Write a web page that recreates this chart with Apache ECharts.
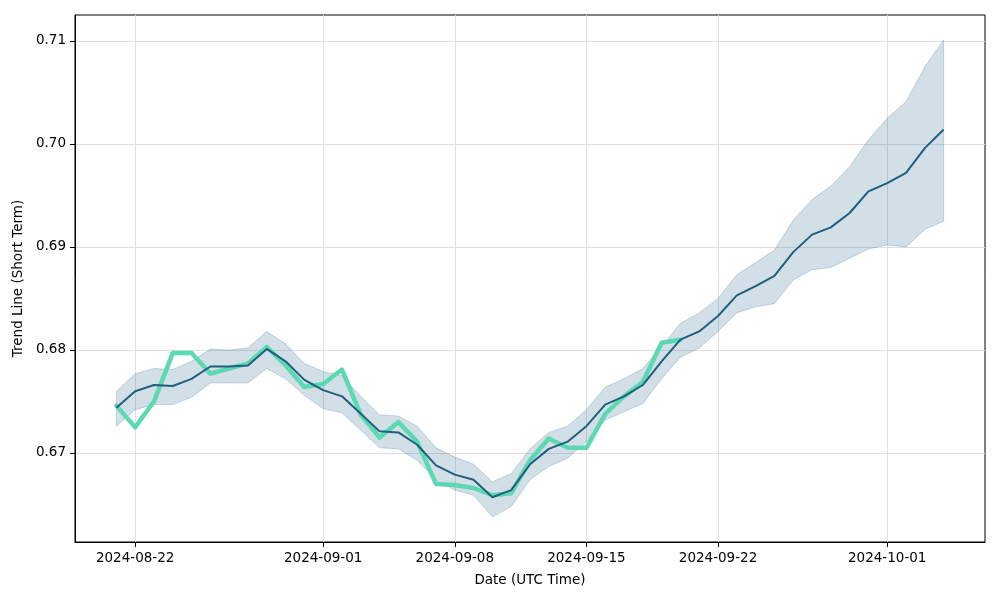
<!DOCTYPE html>
<html>
<head>
<meta charset="utf-8">
<script src="https://cdn.jsdelivr.net/npm/echarts@6/dist/echarts.min.js"></script>
<style>html,body{margin:0;padding:0;background:#fff}#c{width:1000px;height:600px}</style>
</head>
<body>
<div id="c"></div>
<script>
const dates = ["2024-08-21","2024-08-22","2024-08-23","2024-08-24","2024-08-25","2024-08-26","2024-08-27","2024-08-28","2024-08-29","2024-08-30","2024-08-31",
"2024-09-01","2024-09-02","2024-09-03","2024-09-04","2024-09-05","2024-09-06","2024-09-07","2024-09-08","2024-09-09","2024-09-10",
"2024-09-11","2024-09-12","2024-09-13","2024-09-14","2024-09-15","2024-09-16","2024-09-17","2024-09-18","2024-09-19","2024-09-20",
"2024-09-21","2024-09-22","2024-09-23","2024-09-24","2024-09-25","2024-09-26","2024-09-27","2024-09-28","2024-09-29","2024-09-30",
"2024-10-01","2024-10-02","2024-10-03","2024-10-04"];
const trendMean = [0.6744,0.6760,0.6766,0.6765,0.6772,0.6784,0.6784,0.6785,0.6801,0.6789,0.6771,
0.6761,0.6755,0.6738,0.6721,0.6720,0.6708,0.6688,0.6679,0.6674,0.6657,
0.6664,0.6689,0.6704,0.6711,0.6726,0.6747,0.6755,0.6766,0.6789,0.6810,
0.6818,0.6833,0.6853,0.6862,0.6872,0.6895,0.6912,0.6919,0.6933,0.6954,
0.6962,0.6972,0.6996,0.7014];
const bandUpper = [0.6760,0.6777,0.6782,0.6781,0.6789,0.6801,0.6800,0.6802,0.6818,0.6806,0.6787,
0.6779,0.6775,0.6755,0.6737,0.6736,0.6726,0.6705,0.6696,0.6689,0.6672,
0.6680,0.6704,0.6720,0.6726,0.6742,0.6764,0.6772,0.6782,0.6803,0.6826,
0.6836,0.6850,0.6873,0.6885,0.6897,0.6926,0.6946,0.6959,0.6978,0.7004,
0.7025,0.7041,0.7075,0.7101];
const bandLower = [0.6726,0.6742,0.6747,0.6747,0.6754,0.6768,0.6768,0.6768,0.6782,0.6772,0.6756,
0.6743,0.6739,0.6722,0.6705,0.6704,0.6693,0.6674,0.6664,0.6659,0.6638,
0.6648,0.6674,0.6687,0.6695,0.6711,0.6732,0.6740,0.6748,0.6772,0.6793,
0.6802,0.6818,0.6836,0.6842,0.6845,0.6868,0.6878,0.6880,0.6889,0.6898,
0.6902,0.6900,0.6917,0.6925];
const actual = [0.6746,0.6725,0.6750,0.6797,0.6797,0.6777,0.6782,0.6787,0.6803,0.6785,0.6764,
0.6767,0.6781,0.6737,0.6715,0.6730,0.6711,0.6670,0.6669,0.6666,0.6659,
0.6661,0.6693,0.6714,0.6705,0.6705,0.6738,0.6755,0.6769,0.6807,0.6810];
const xTickLabels = ["2024-08-22","2024-09-01","2024-09-08","2024-09-15","2024-09-22","2024-10-01"];
const yTickValues = [0.67,0.68,0.69,0.70,0.71];

const ts = s => Date.parse(s + "T00:00:00Z");
const DAY = 86400000;
const xMin = ts(dates[0]) - 2.2 * DAY;
const xMax = ts(dates[dates.length-1]) + 2.2 * DAY;
const pad = n => (n < 10 ? "0" : "") + n;
const fmt = v => { const d = new Date(v); return d.getUTCFullYear() + "-" + pad(d.getUTCMonth()+1) + "-" + pad(d.getUTCDate()); };

const bandData = dates.map((d,i) => [ts(d), bandLower[i], bandUpper[i]]);
const meanData = dates.map((d,i) => [ts(d), trendMean[i]]);
const actData = actual.map((v,i) => [ts(dates[i]), v]);
const xTicks = xTickLabels.map(ts);

const font = "DejaVu Sans";
const chart = echarts.init(document.getElementById('c'), null, {renderer:'canvas'});
chart.setOption({
  animation: false,
  backgroundColor: '#fff',
  grid: {left: 75, right: 15, top: 15, bottom: 58, show: true, borderColor: '#000', borderWidth: 1, backgroundColor: 'transparent'},
  xAxis: {
    type: 'value', min: xMin, max: xMax, scale: true,
    name: 'Date (UTC Time)', nameLocation: 'middle', nameGap: 31,
    nameTextStyle: {fontFamily: font, fontSize: 13.5, color: '#000'},
    axisLine: {show: true, onZero: false, lineStyle: {color: '#000', width: 1}},
    axisTick: {show: true, length: 5, lineStyle: {color: '#000'}, customValues: xTicks},
    axisLabel: {fontFamily: font, fontSize: 13.5, color: '#000', margin: 9, customValues: xTicks, formatter: v => fmt(v)},
    splitLine: {show: true, lineStyle: {color: '#e0e0e0', width: 1}}
  },
  yAxis: {
    type: 'value', min: 0.66136, max: 0.71252, scale: true,
    name: 'Trend Line (Short Term)', nameLocation: 'middle', nameGap: 47,
    nameTextStyle: {fontFamily: font, fontSize: 13.5, color: '#000'},
    axisLine: {show: true, lineStyle: {color: '#000', width: 1}},
    axisTick: {show: true, length: 5, lineStyle: {color: '#000'}, customValues: yTickValues},
    axisLabel: {fontFamily: font, fontSize: 13.5, color: '#000', margin: 9, customValues: yTickValues, formatter: v => v.toFixed(2)},
    splitLine: {show: true, lineStyle: {color: '#e0e0e0', width: 1}}
  },
  series: [
    {
      type: 'custom', data: bandData, silent: true, z: 1,
      encode: {x: 0, y: [1, 2]},
      renderItem: function (params, api) {
        if (params.dataIndex !== 0) return null;
        const upperPts = bandData.map(d => api.coord([d[0], d[2]]));
        const lowerPts = bandData.map(d => api.coord([d[0], d[1]])).reverse();
        return {
          type: 'polygon',
          shape: {points: upperPts.concat(lowerPts)},
          style: {fill: 'rgba(31,95,128,0.2)', stroke: 'rgba(31,95,128,0.22)', lineWidth: 1}
        };
      }
    },
    {type: 'line', data: actData, symbol: 'none', lineStyle: {width: 4.5, color: '#5cd9b2', cap: 'round', join: 'round'}, z: 3},
    {type: 'line', data: meanData, symbol: 'none', lineStyle: {width: 2, color: '#1f5f80'}, z: 4}
  ]
});
</script>
</body>
</html>
